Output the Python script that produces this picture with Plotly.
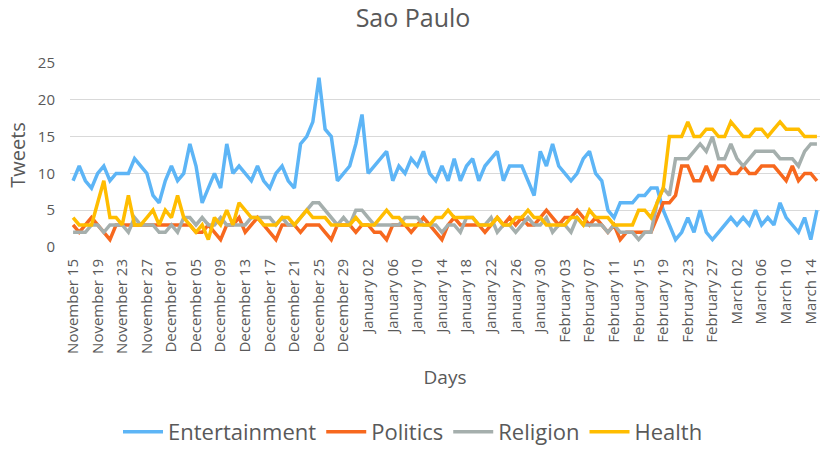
import pandas as pd
import plotly.graph_objects as go

# Daily categories (Nov 15 2019 - Mar 15 2020)
days = [d.strftime("%B %d") for d in pd.date_range("2019-11-15", "2020-03-15", freq="D")]
tick_labels = days[::4]

entertainment = [
    9, 11, 9, 8, 10, 11, 9, 10, 10, 10,
    12, 11, 10, 7, 6, 9, 11, 9, 10, 14,
    11, 6, 8, 10, 8, 14, 10, 11, 10, 9,
    11, 9, 8, 10, 11, 9, 8, 14, 15, 17,
    23, 16, 15, 9, 10, 11, 14, 18, 10, 11,
    12, 13, 9, 11, 10, 12, 11, 13, 10, 9,
    11, 9, 12, 9, 11, 12, 9, 11, 12, 13,
    9, 11, 11, 11, 9, 7, 13, 11, 14, 11,
    10, 9, 10, 12, 13, 10, 9, 5, 4, 6,
    6, 6, 7, 7, 8, 8, 5, 3, 1, 2,
    4, 2, 5, 2, 1, 2, 3, 4, 3, 4,
    3, 5, 3, 4, 3, 6, 4, 3, 2, 4,
    1, 5,
]
politics = [
    3, 2, 3, 4, 3, 2, 1, 3, 3, 3,
    3, 3, 3, 3, 3, 3, 3, 3, 3, 3,
    2, 2, 3, 2, 1, 3, 3, 4, 2, 3,
    4, 3, 2, 1, 3, 3, 3, 2, 3, 3,
    3, 2, 1, 3, 3, 3, 2, 3, 3, 2,
    2, 1, 3, 3, 3, 2, 3, 4, 3, 2,
    1, 3, 4, 3, 3, 3, 3, 2, 3, 4,
    3, 4, 3, 4, 3, 3, 4, 5, 4, 3,
    4, 4, 5, 4, 3, 4, 3, 2, 3, 1,
    2, 2, 2, 2, 2, 4, 6, 6, 7, 11,
    11, 9, 9, 11, 9, 11, 11, 10, 10, 11,
    10, 10, 11, 11, 11, 10, 9, 11, 9, 10,
    10, 9,
]
religion = [
    2, 2, 2, 3, 3, 2, 3, 3, 3, 2,
    4, 3, 3, 3, 2, 2, 3, 2, 4, 4,
    3, 4, 3, 3, 4, 3, 3, 3, 3, 4,
    4, 4, 4, 3, 4, 3, 3, 4, 5, 6,
    6, 5, 4, 3, 4, 3, 5, 5, 4, 3,
    3, 3, 3, 3, 4, 4, 4, 3, 3, 3,
    2, 3, 3, 2, 4, 4, 3, 3, 4, 2,
    3, 3, 2, 3, 4, 3, 3, 4, 2, 3,
    3, 2, 4, 3, 3, 3, 3, 2, 3, 2,
    2, 2, 1, 2, 2, 6, 8, 7, 12, 12,
    12, 13, 14, 13, 15, 12, 12, 14, 12, 11,
    12, 13, 13, 13, 13, 12, 12, 12, 11, 13,
    14, 14,
]
health = [
    4, 3, 3, 3, 6, 9, 4, 4, 3, 7,
    3, 3, 4, 5, 3, 5, 4, 7, 4, 3,
    2, 3, 1, 4, 3, 5, 3, 6, 5, 4,
    4, 3, 3, 3, 4, 4, 3, 4, 5, 4,
    4, 4, 3, 3, 3, 3, 4, 3, 3, 3,
    4, 5, 4, 4, 3, 3, 3, 3, 3, 4,
    4, 5, 4, 4, 4, 4, 3, 3, 3, 4,
    3, 3, 4, 4, 5, 4, 4, 3, 3, 3,
    3, 4, 4, 3, 5, 4, 4, 4, 3, 3,
    3, 3, 5, 5, 4, 6, 8, 15, 15, 15,
    17, 15, 15, 16, 16, 15, 15, 17, 16, 15,
    15, 16, 16, 15, 16, 17, 16, 16, 16, 15,
    15, 15,
]

series = [
    ("Entertainment", entertainment, "#5DB5F6"),
    ("Politics", politics, "#F7681E"),
    ("Religion", religion, "#A5AFAD"),
    ("Health", health, "#FFBD00"),
]

FONT = "Open Sans, Noto Sans, sans-serif"
TXT = "#595959"

fig = go.Figure()
for name, vals, color in series:
    fig.add_trace(go.Scatter(
        x=days[:len(vals)], y=vals, name=name, mode="lines",
        line=dict(color=color, width=3.5),
    ))

fig.update_layout(
    width=826, height=449,
    margin=dict(l=70, r=6, t=63, b=202),
    paper_bgcolor="white", plot_bgcolor="white",
    font=dict(family=FONT, color=TXT),
    title=dict(text="Sao Paulo", x=0.5, xref="container", xanchor="center",
               y=1 - 18 / 449, yanchor="middle",
               font=dict(size=25, color=TXT, family=FONT)),
    showlegend=True,
    legend=dict(orientation="h", x=0.5, xref="container", xanchor="center",
                y=1 - 411 / 449, yref="container", yanchor="top",
                font=dict(size=22, color=TXT, family=FONT),
                itemwidth=40, tracegroupgap=0),
    xaxis=dict(
        type="category", categoryorder="array", categoryarray=days,
        range=[-0.5, len(days) - 0.5], automargin=False,
        tickmode="array", tickvals=tick_labels, ticktext=tick_labels,
        tickangle=-90, tickfont=dict(size=15, color=TXT),
        showgrid=False, showline=False, zeroline=False, ticks="",
        ticklabelstandoff=8,
        title=dict(text="Days", font=dict(size=19, color=TXT), standoff=17),
    ),
    yaxis=dict(
        range=[0, 25], tickvals=[0, 5, 10, 15, 20, 25], automargin=False,
        tickfont=dict(size=15, color=TXT),
        showgrid=True, gridcolor="#D9D9D9", gridwidth=1,
        zeroline=False, showline=False, ticks="",
        ticklabelstandoff=14,
        title=dict(text="Tweets", font=dict(size=20, color=TXT), standoff=6),
    ),
)

fig.write_html(
    "out.html",
    config={"displayModeBar": False},
    post_script="document.body.style.margin='0';document.body.style.padding='0';document.body.style.overflow='hidden';",
)
